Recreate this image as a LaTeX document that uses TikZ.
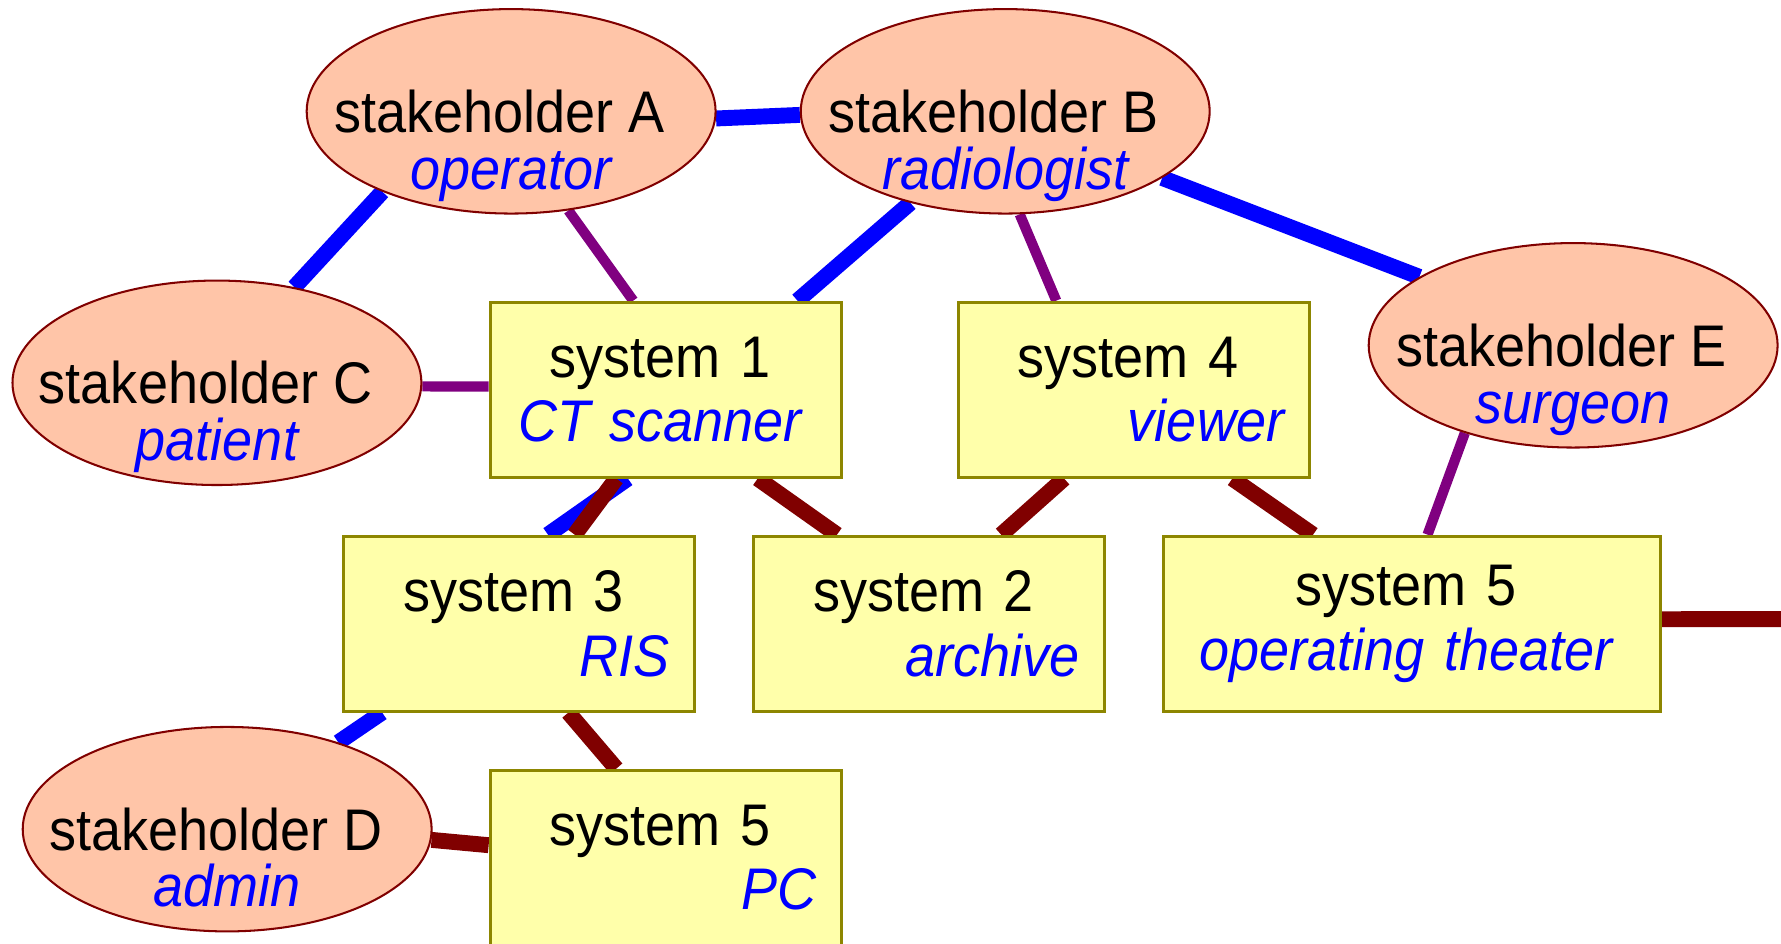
\documentclass[tikz,border=0pt]{standalone}
\usepackage{fontspec}
\setmainfont[FakeStretch=0.92]{Liberation Sans}
\usetikzlibrary{shapes.geometric,backgrounds}

\definecolor{peach}{HTML}{FFC5A8}
\definecolor{lemon}{HTML}{FFFFAA}
\definecolor{plum}{HTML}{800080}
\definecolor{maroon}{HTML}{800000}

\newcommand{\bigfont}{\fontsize{25.85pt}{28.5pt}\selectfont}
\newcommand{\rl}[1]{{\color{blue}\itshape #1}}
\newcommand{\stk}[1]{\makebox[0pt]{stakeholder #1\hspace*{10pt}}}
\newcommand{\lft}{\hspace*{-5pt}}

\begin{document}
\begin{tikzpicture}[x=0.5pt, y=-0.5pt, font=\bigfont,
  stake/.style={ellipse, draw=maroon, line width=0.9pt, fill=peach,
                minimum width=180pt, minimum height=90pt, inner sep=0pt},
  sys/.style={draw=olive, line width=1.3pt, fill=lemon, align=center,
              text width=132.5pt, inner xsep=11pt, inner ysep=0pt,
              minimum height=77pt},
  role/.style={anchor=base, text=blue, font=\bigfont\itshape},
  blueline/.style={blue, line width=7pt},
  plumline/.style={plum, line width=4.5pt},
  redline/.style={maroon, line width=7pt}]
  \useasboundingbox (0,0) rectangle (1568,831);

  % stakeholders
  \node[stake] (A) at (450,98)   {\stk{A}};
  \node[stake] (B) at (885,98)   {\stk{B}};
  \node[stake] (C) at (191,337)  {\stk{C}};
  \node[stake] (D) at (200,730)  {\stk{D}};
  \node[stake] (E) at (1385,304) {\stk{E}};
  \node[role] (Ar) at ([yshift=-25pt]A.base) {operator};
  \node[role] (Br) at ([yshift=-25pt]B.base) {radiologist};
  \node[role] (Cr) at ([yshift=-25pt]C.base) {patient};
  \node[role] (Dr) at ([yshift=-25pt]D.base) {admin};
  \node[role] (Er) at ([yshift=-25pt]E.base) {surgeon};

  % systems
  \node[sys] (S1) at (586,343)  {\lft system 1\\\lft\rl{CT scanner}};
  \node[sys] (S4) at (998,343)  {\lft system 4\\\hspace*{\fill}\rl{viewer}};
  \node[sys] (S3) at (457,549)  {\lft system 3\\\hspace*{\fill}\rl{RIS}};
  \node[sys] (S2) at (818,549)  {\lft system 2\\\hspace*{\fill}\rl{archive}};
  \node[sys, text width=197pt] (S5) at (1243,549)
        {\lft system 5\\\lft\rl{operating theater}};
  \node[sys] (PC) at (586,755)  {\lft system 5\\\hspace*{\fill}\rl{PC}};
  \coordinate (out) at (1600,545);

  \begin{scope}[on background layer]
    \path (A.-2)   edge[blueline] (B.181)
          (C.51)   edge[blueline] (A.212)
          (B.224)  edge[blueline] (S1.34)
          (B.-23)  edge[blueline] (E.156)
          (S1.247) edge[blueline] (S3.72)
          (S3.213) edge[blueline] (D.38);
    \path (A.-60)  edge[plumline] (S1.110)
          (C.-1)   edge[plumline] (S1.179)
          (B.-82)  edge[plumline] (S4.131)
          (E.219)  edge[plumline] (S5.80);
    \path (S1.241) edge[redline]  (S3.58)
          (S1.-44) edge[redline]  (S2.136)
          (S4.232) edge[redline]  (S2.51)
          (S4.-42) edge[redline]  (S5.138)
          (S3.-61) edge[redline]  (PC.119)
          (D.-3)   edge[redline]  (PC.176)
          (S5.1)   edge[redline]  (out);
  \end{scope}
\end{tikzpicture}
\end{document}
